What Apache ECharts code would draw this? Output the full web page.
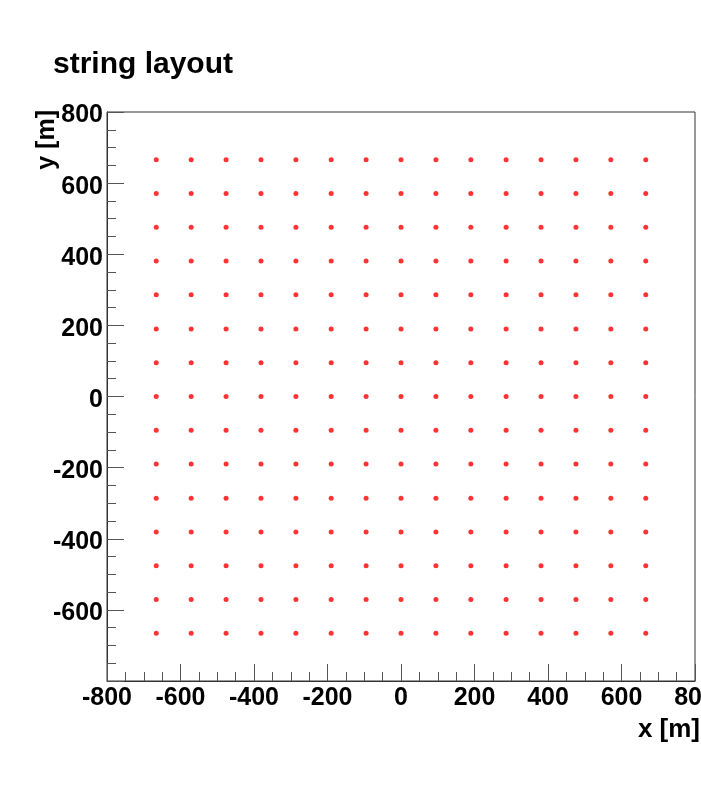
<!DOCTYPE html>
<html>
<head>
<meta charset="utf-8">
<script src="https://cdn.jsdelivr.net/npm/echarts@6/dist/echarts.min.js"></script>
<style>html,body{margin:0;padding:0;background:#fff}#c{width:701px;height:800px}</style>
</head>
<body>
<div id="c"></div>
<script>
// string positions (metres)
const xPositions = [-666, -571, -476, -381, -286, -190, -95, 0, 95, 190, 286, 381, 476, 571, 666];
const yPositions = [-666, -571, -476, -381, -286, -190, -95, 0, 95, 190, 286, 381, 476, 571, 666];
const xTicks = [-800, -600, -400, -200, 0, 200, 400, 600, 800];
const yTicks = [-800, -600, -400, -200, 0, 200, 400, 600, 800];

const points = [];
for (const y of yPositions) for (const x of xPositions) points.push([x, y]);

const FONT = '"Liberation Sans", Arial, Helvetica, sans-serif';
const chart = echarts.init(document.getElementById('c'));
chart.setOption({
  animation: false,
  backgroundColor: '#fff',
  title: {
    text: 'string layout', left: 53, top: 50, padding: 0,
    textStyle: { fontFamily: FONT, fontWeight: 'bold', fontSize: 30, color: '#000' }
  },
  grid: { left: 107, right: 6, top: 112, bottom: 119, containLabel: false, outerBoundsMode: 'none',
    show: true, borderColor: '#333', borderWidth: 1, backgroundColor: '#fff' },
  xAxis: {
    type: 'value', min: -800, max: 800, interval: 200,
    axisLine: { show: true, onZero: false, lineStyle: { color: '#333', width: 1 } },
    axisTick: { show: true, inside: true, length: 17, lineStyle: { color: '#555' } },
    minorTick: { show: true, splitNumber: 4, length: 9, lineStyle: { color: '#555' } },
    splitLine: { show: false },
    axisLabel: { show: true, margin: 5, fontFamily: FONT, fontWeight: 'bold', fontSize: 25, color: '#000',
      showMinLabel: true, showMaxLabel: true, hideOverlap: false,
      formatter: v => xTicks.includes(v) ? String(v) : '' },
    name: 'x [m]', nameLocation: 'end', nameGap: 0,
    nameTextStyle: { fontFamily: FONT, fontWeight: 'bold', fontSize: 26, color: '#000', align: 'right', verticalAlign: 'top', padding: [36, -5, 0, 0] }
  },
  yAxis: {
    type: 'value', min: -800, max: 800, interval: 200,
    axisLine: { show: true, onZero: false, lineStyle: { color: '#333', width: 1 } },
    axisTick: { show: true, inside: true, length: 17, lineStyle: { color: '#555' } },
    minorTick: { show: true, splitNumber: 4, length: 9, lineStyle: { color: '#555' } },
    splitLine: { show: false },
    axisLabel: { show: true, margin: 4, color: '#000',
      showMinLabel: false, showMaxLabel: true, hideOverlap: false,
      formatter: v => (yTicks.includes(v) && v !== -800) ? '{t|' + v + '}' : '',
      rich: { t: { fontFamily: FONT, fontWeight: 'bold', fontSize: 25, color: '#000', padding: [7, 0, 0, 0] } } }
  },
  graphic: [{
    type: 'text', x: 35, y: 110, rotation: Math.PI / 2,
    style: { text: 'y [m]', align: 'right', verticalAlign: 'top', font: 'bold 25px ' + FONT, fill: '#000' }
  }],
  series: [{
    type: 'scatter', data: points, symbol: 'circle', symbolSize: 5,
    itemStyle: { color: '#ff0000' }, silent: true
  }]
});
</script>
</body>
</html>
